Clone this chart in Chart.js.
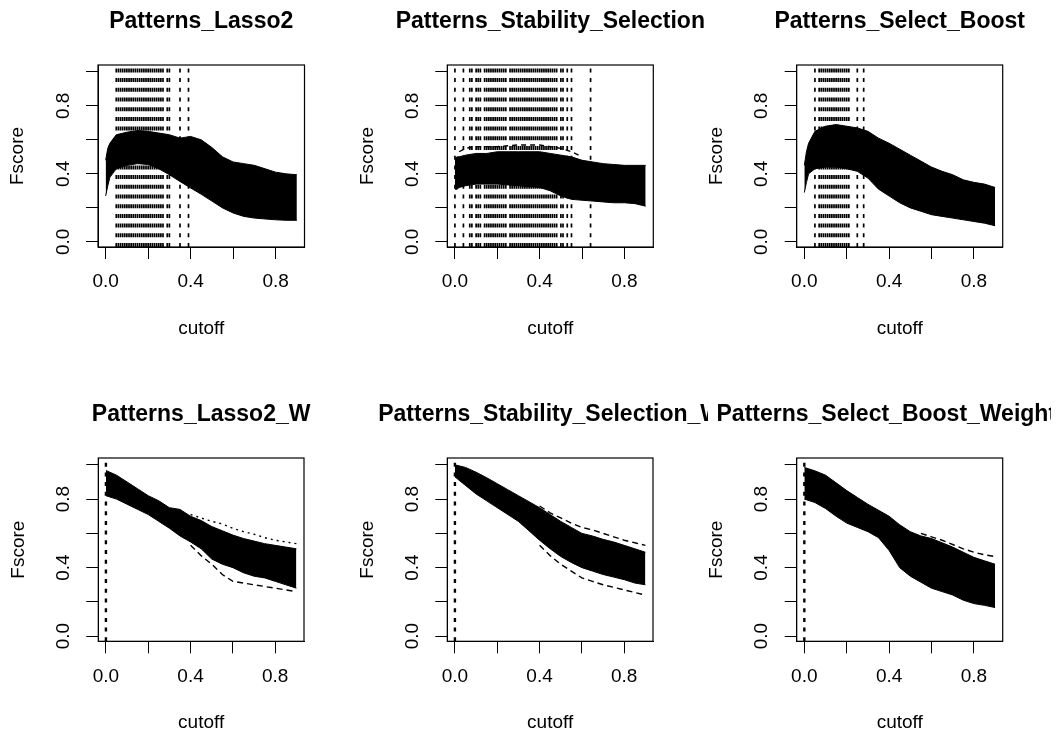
<!DOCTYPE html>
<html><head><meta charset="utf-8">
<script src="https://cdn.jsdelivr.net/npm/chart.js@4.4.1/dist/chart.umd.min.js"></script>
<style>
html,body{margin:0;padding:0;background:#fff;}
#wrap{position:relative;width:1062px;height:736px;overflow:hidden;background:#fff;}
canvas{position:absolute;}
</style></head><body><div id="wrap"></div>
<script>
// ---------- labels ----------
const panelTitles = ['Patterns_Lasso2','Patterns_Stability_Selection','Patterns_Select_Boost',
                     'Patterns_Lasso2_W','Patterns_Stability_Selection_W','Patterns_Select_Boost_Weighted'];
const xLabel = 'cutoff';
const yLabel = 'Fscore';
const xTicks = [0, 0.2, 0.4, 0.6, 0.8];
const xTickLabels = ['0.0', '', '0.4', '', '0.8'];
const yTicks = [0, 0.2, 0.4, 0.6, 0.8, 1.0];
const yTickLabels = ['0.0', '', '0.4', '', '0.8', ''];
const xRange = [-0.036, 0.936];
const yRange = [-0.03, 1.04];

// ---------- cutoff grids ----------
const cutRow1 = [0, 0.01, 0.02, 0.05, 0.1, 0.15, 0.2, 0.25, 0.3, 0.35, 0.4, 0.45, 0.5, 0.55, 0.6, 0.65, 0.7, 0.75, 0.8, 0.85, 0.9];
const cutRow2 = [0, 0.05, 0.1, 0.15, 0.2, 0.25, 0.3, 0.35, 0.4, 0.45, 0.5, 0.55, 0.6, 0.65, 0.7, 0.75, 0.8, 0.85, 0.9];

// ---------- Patterns_Lasso2 ----------
const lassoUpper = [0.48,0.55,0.58,0.63,0.645,0.655,0.65,0.64,0.63,0.61,0.62,0.60,0.555,0.50,0.47,0.46,0.45,0.43,0.41,0.40,0.395];
const lassoLower = [0.27,0.33,0.38,0.43,0.45,0.46,0.455,0.43,0.395,0.355,0.317,0.28,0.24,0.20,0.17,0.15,0.14,0.135,0.13,0.127,0.127];
const lassoVlines = [0.05,0.06,0.07,0.08,0.09,0.10,0.11,0.12,0.13,0.14,0.15,0.16,0.17,0.18,0.19,0.20,0.21,0.22,0.23,0.24,0.25,0.26,0.27,0.29,0.30,0.35,0.39];

// ---------- Patterns_Stability_Selection ----------
const stabUpper = [0.49,0.50,0.50,0.51,0.52,0.52,0.53,0.53,0.53,0.53,0.53,0.52,0.51,0.50,0.48,0.47,0.46,0.455,0.45,0.45,0.45];
const stabLower = [0.31,0.31,0.32,0.33,0.34,0.34,0.34,0.335,0.33,0.325,0.32,0.30,0.27,0.25,0.245,0.24,0.235,0.23,0.23,0.225,0.21];
const stabOutX = [0.02, 0.05, 0.1, 0.2, 0.3, 0.4, 0.45, 0.5, 0.55, 0.6];
const stabOutY = [0.53, 0.55, 0.56, 0.56, 0.57, 0.57, 0.56, 0.55, 0.53, 0.50];
const stabVlines = [0.00,0.04,0.07,0.08,0.10,0.11,0.12,0.14,0.15,0.16,0.17,0.18,0.19,0.20,0.21,0.22,0.23,0.24,
  0.26,0.27,0.28,0.29,0.30,0.31,0.32,0.33,0.34,0.35,0.36,0.37,0.38,0.39,0.40,0.41,0.42,0.43,0.44,0.45,0.46,0.47,0.48,
  0.50,0.51,0.53,0.55,0.64];

// ---------- Patterns_Select_Boost ----------
const boostUpper = [0.45,0.53,0.58,0.65,0.68,0.69,0.68,0.67,0.65,0.61,0.58,0.545,0.51,0.475,0.44,0.415,0.395,0.365,0.35,0.34,0.32];
const boostLower = [0.29,0.35,0.40,0.43,0.44,0.44,0.43,0.415,0.375,0.31,0.27,0.23,0.20,0.18,0.16,0.15,0.14,0.13,0.12,0.11,0.095];
const boostVlines = [0.05,0.07,0.08,0.09,0.10,0.11,0.12,0.13,0.14,0.15,0.16,0.17,0.18,0.19,0.20,0.21,0.25,0.28];

// ---------- Patterns_Lasso2_W ----------
const lassoWUpper = [0.967,0.94,0.90,0.86,0.82,0.79,0.75,0.74,0.70,0.675,0.64,0.615,0.59,0.57,0.555,0.54,0.53,0.52,0.51];
const lassoWLower = [0.82,0.80,0.77,0.74,0.71,0.67,0.63,0.585,0.55,0.51,0.45,0.42,0.40,0.37,0.35,0.34,0.32,0.30,0.28];
const lassoWOutX = [0.4, 0.45, 0.5, 0.55, 0.6, 0.65, 0.7, 0.75, 0.8, 0.85, 0.9];
const lassoWOutHi = [0.71, 0.69, 0.67, 0.655, 0.63, 0.61, 0.595, 0.575, 0.56, 0.55, 0.54];
const lassoWOutLo = [0.53, 0.47, 0.42, 0.36, 0.32, 0.31, 0.30, 0.29, 0.28, 0.27, 0.26];
const lassoWVlines = [0.00];

// ---------- Patterns_Stability_Selection_W ----------
const stabWUpper = [1.00,0.985,0.957,0.925,0.89,0.855,0.82,0.785,0.75,0.71,0.67,0.635,0.60,0.585,0.565,0.55,0.53,0.51,0.49];
const stabWLower = [0.93,0.88,0.83,0.79,0.75,0.71,0.67,0.615,0.56,0.51,0.465,0.43,0.40,0.38,0.36,0.345,0.33,0.31,0.30];
const stabWOutX = [0.4, 0.45, 0.5, 0.55, 0.6, 0.65, 0.7, 0.75, 0.8, 0.85, 0.9];
const stabWOutHi = [0.76, 0.72, 0.69, 0.66, 0.635, 0.62, 0.60, 0.58, 0.56, 0.545, 0.53];
const stabWOutLo = [0.53, 0.47, 0.42, 0.38, 0.34, 0.32, 0.30, 0.285, 0.27, 0.255, 0.24];
const stabWVlines = [0.00];

// ---------- Patterns_Select_Boost_Weighted ----------
const boostWUpper = [0.985,0.965,0.94,0.895,0.85,0.81,0.77,0.735,0.70,0.65,0.61,0.585,0.57,0.545,0.52,0.49,0.46,0.44,0.42];
const boostWLower = [0.80,0.78,0.745,0.70,0.66,0.635,0.61,0.575,0.50,0.40,0.35,0.315,0.28,0.26,0.24,0.21,0.19,0.18,0.167];
const boostWOutX = [0.55, 0.6, 0.65, 0.7, 0.75, 0.8, 0.85, 0.9];
const boostWOutHi = [0.60, 0.58, 0.56, 0.535, 0.51, 0.49, 0.475, 0.465];
const boostWVlines = [0.00];

// ---------- panel assembly ----------
const panels = [
  {title: panelTitles[0], cut: cutRow1, upper: lassoUpper, lower: lassoLower, extras: [], vlines: lassoVlines, vw: 1.7},
  {title: panelTitles[1], cut: cutRow1, upper: stabUpper, lower: stabLower, extras: [{x: stabOutX, y: stabOutY, dash: [5,4]}], vlines: stabVlines, vw: 1.7},
  {title: panelTitles[2], cut: cutRow1, upper: boostUpper, lower: boostLower, extras: [], vlines: boostVlines, vw: 1.7},
  {title: panelTitles[3], cut: cutRow2, upper: lassoWUpper, lower: lassoWLower,
    extras: [{x: lassoWOutX, y: lassoWOutHi, dash: [2,4]}, {x: lassoWOutX, y: lassoWOutLo, dash: [6,4]}], vlines: lassoWVlines, vw: 2.4},
  {title: panelTitles[4], cut: cutRow2, upper: stabWUpper, lower: stabWLower,
    extras: [{x: stabWOutX, y: stabWOutHi, dash: [6,4]}, {x: stabWOutX, y: stabWOutLo, dash: [6,4]}], vlines: stabWVlines, vw: 2.4},
  {title: panelTitles[5], cut: cutRow2, upper: boostWUpper, lower: boostWLower,
    extras: [{x: boostWOutX, y: boostWOutHi, dash: [6,4]}], vlines: boostWVlines, vw: 2.4}
];

// layout frames (canvas placement + plot area inside the canvas)
const frames = [
  {left: 0,   top: 0,   w: 354, h: 393, L: 98,   R: 304.5, T: 65, B: 247},
  {left: 354, top: 0,   w: 354, h: 393, L: 93.3, R: 299.3, T: 65, B: 247},
  {left: 708, top: 0,   w: 343, h: 393, L: 88.7, R: 294.7, T: 65, B: 247},
  {left: 0,   top: 393, w: 354, h: 343, L: 98.3, R: 304,   T: 65, B: 248.3},
  {left: 354, top: 393, w: 354, h: 343, L: 93.3, R: 299,   T: 65, B: 248.3},
  {left: 708, top: 393, w: 343, h: 343, L: 88.7, R: 294.7, T: 65, B: 248.3}
];

const FONT = "'Liberation Sans', Arial, Helvetica, sans-serif";
Chart.defaults.font.family = FONT;
Chart.defaults.color = '#000';

const titlePlugin = {
  id: 'rtitle',
  afterDraw(chart, args, opts) {
    const {ctx, chartArea} = chart;
    ctx.save();
    ctx.font = "bold 23px " + FONT;
    ctx.fillStyle = '#000';
    ctx.textAlign = 'center';
    ctx.textBaseline = 'alphabetic';
    ctx.fillText(opts.text, (chartArea.left + chartArea.right) / 2, chartArea.top - 37);
    ctx.restore();
  }
};
const boxPlugin = {
  id: 'rbox',
  afterDatasetsDraw(chart) {
    const {ctx, chartArea: a} = chart;
    ctx.save();
    ctx.strokeStyle = '#000';
    ctx.lineWidth = 1.2;
    ctx.strokeRect(a.left, a.top, a.right - a.left, a.bottom - a.top);
    ctx.restore();
  }
};

const X_AXIS_H = 92.7;
const wrap = document.getElementById('wrap');

panels.forEach((p, k) => {
  const f = frames[k];
  const c = document.createElement('canvas');
  c.width = f.w; c.height = f.h;
  c.style.left = f.left + 'px'; c.style.top = f.top + 'px';
  c.style.width = f.w + 'px'; c.style.height = f.h + 'px';
  wrap.appendChild(c);

  const datasets = [];
  datasets.push({data: p.cut.map((x, i) => ({x, y: p.upper[i]})), borderColor: '#000', borderWidth: 1, pointRadius: 0, fill: false});
  datasets.push({data: p.cut.map((x, i) => ({x, y: p.lower[i]})), borderColor: '#000', borderWidth: 1, pointRadius: 0, fill: '-1', backgroundColor: '#000'});
  p.extras.forEach(e => datasets.push({data: e.x.map((x, i) => ({x, y: e.y[i]})), borderColor: '#000', borderWidth: 1.4, borderDash: e.dash, pointRadius: 0, fill: false}));
  p.vlines.forEach(v => datasets.push({data: [{x: v, y: yRange[0]}, {x: v, y: yRange[1]}], borderColor: '#000', borderWidth: p.vw, borderDash: [4, 5.7], pointRadius: 0, fill: false}));

  const tickFont = {family: FONT, size: 19, lineHeight: 1.2};
  new Chart(c, {
    type: 'line',
    data: {datasets},
    plugins: [titlePlugin, boxPlugin],
    options: {
      responsive: false, animation: false, devicePixelRatio: 1,
      layout: {padding: {left: 0, right: f.w - f.R, top: f.T, bottom: f.h - f.B - X_AXIS_H}},
      plugins: {legend: {display: false}, tooltip: {enabled: false}, title: {display: false}, rtitle: {text: p.title}},
      scales: {
        x: {
          type: 'linear', min: xRange[0], max: xRange[1],
          afterBuildTicks: s => { s.ticks = xTicks.map(v => ({value: v})); },
          afterFit: s => { s.height = X_AXIS_H; },
          ticks: {autoSkip: false, maxRotation: 0, minRotation: 0, padding: 11.8, color: '#000', font: tickFont,
                  callback: (v, i) => xTickLabels[i]},
          grid: {display: true, drawOnChartArea: false, drawTicks: true, tickLength: 12, color: '#000', lineWidth: 1},
          border: {display: true, color: '#000', width: 1},
          title: {display: true, text: xLabel, color: '#000', font: tickFont, padding: 0}
        },
        y: {
          type: 'linear', min: yRange[0], max: yRange[1],
          afterBuildTicks: s => { s.ticks = yTicks.map(v => ({value: v})); },
          afterFit: s => { s.width = f.L; },
          ticks: {autoSkip: false, minRotation: 90, maxRotation: 90, crossAlign: 'center', padding: 9.5, color: '#000', font: tickFont,
                  callback: (v, i) => yTickLabels[i]},
          grid: {display: true, drawOnChartArea: false, drawTicks: true, tickLength: 12, color: '#000', lineWidth: 1},
          border: {display: true, color: '#000', width: 1},
          title: {display: true, text: yLabel, color: '#000', font: {family: FONT, size: 19, lineHeight: 0.5},
                  padding: {top: f.L - 84.75, bottom: 0}}
        }
      }
    }
  });
});
</script>
</body></html>
